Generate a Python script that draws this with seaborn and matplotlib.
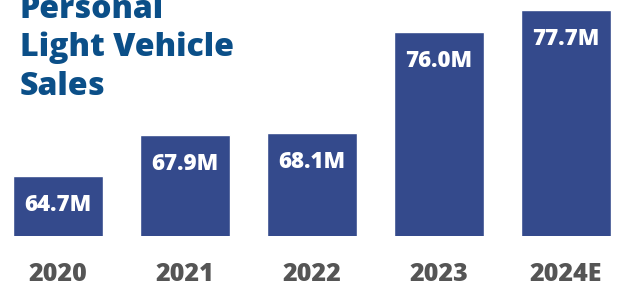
import matplotlib
matplotlib.use('Agg')
import matplotlib.pyplot as plt
import seaborn as sns
import pandas as pd

# chart values
years = ['2020', '2021', '2022', '2023', '2024E']
sales = [64.7, 67.9, 68.1, 76.0, 77.7]
labels = ['64.7M', '67.9M', '68.1M', '76.0M', '77.7M']
title_lines = ['Personal', 'Light Vehicle', 'Sales']

sns.set_style('white')
plt.rcParams['font.family'] = ['Open Sans', 'DejaVu Sans']

df = pd.DataFrame({'year': years, 'sales': sales})

fig = plt.figure(figsize=(6.23, 2.87), dpi=100)
ax = fig.add_axes([0, 0.1777, 1, 0.8223])

sns.barplot(data=df, x='year', y='sales', color='#344a8c', saturation=1,
            width=0.709, ax=ax)

ax.set_ylim(60, 60 + 236 / 12.75)
ax.set_xlim(-0.457, 4.449)
ax.set_xlabel('')
ax.set_ylabel('')
ax.set_yticks([])
ax.tick_params(axis='x', length=0, pad=19, labelsize=18, labelcolor='#555555')
for t in ax.get_xticklabels():
    t.set_fontweight('heavy')
sns.despine(ax=ax, left=True, bottom=True, top=True, right=True)

# value labels near top of each bar
for i, (v, lab) in enumerate(zip(sales, labels)):
    ax.annotate(lab, (i, v), xytext=(0, -21), textcoords='offset points',
                ha='center', va='center', color='white',
                fontsize=16, fontweight='heavy')

# title
for k, line in enumerate(title_lines):
    fig.text(20 / 623, 1 - (18 + 38.5 * k) / 287, line, ha='left', va='baseline',
             fontsize=23, fontweight='heavy', color='#0b4f88')

fig.savefig('out.png', dpi=100)
